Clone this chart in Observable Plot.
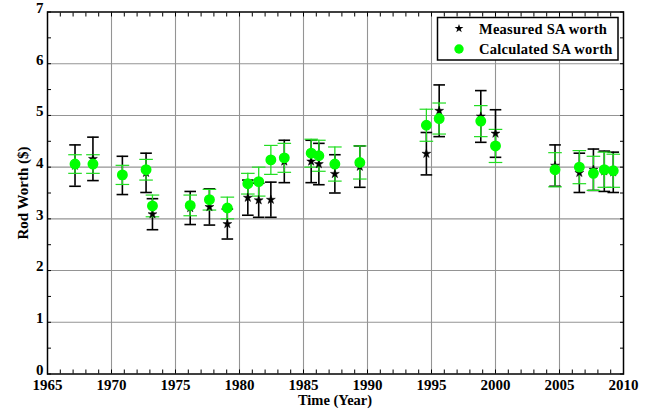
<!DOCTYPE html>
<html><head><meta charset="utf-8">
<script src="https://cdn.jsdelivr.net/npm/d3@7"></script>
<script src="https://cdn.jsdelivr.net/npm/@observablehq/plot@0.6"></script>
<style>body{margin:0;background:#fff}</style>
</head><body><div id="chart"></div>
<script>
// ---- data ----
const years         = [1967.15, 1968.55, 1970.85, 1972.7, 1973.2, 1976.15, 1977.65, 1979.05, 1980.65, 1981.5, 1982.45, 1983.5, 1985.6, 1986.2, 1987.45, 1989.4, 1994.6, 1995.6, 1998.85, 2000.0, 2004.65, 2006.55, 2007.65, 2008.5, 2009.2];
const measured      = [4.03, 4.16, 3.84, 3.89, 3.09, 3.21, 3.23, 2.90, 3.41, 3.36, 3.37, 4.11, 4.11, 4.06, 3.87, 4.01, 4.26, 5.09, 4.98, 4.65, 4.03, 3.89, 3.95, 3.92, 3.90];
const measuredErr   = [0.40, 0.42, 0.37, 0.38, 0.30, 0.32, 0.35, 0.29, 0.34, 0.33, 0.34, 0.41, 0.41, 0.40, 0.37, 0.40, 0.41, 0.50, 0.50, 0.46, 0.40, 0.38, 0.40, 0.39, 0.39];
const calculated    = [4.06, 4.06, 3.85, 3.95, 3.25, 3.26, 3.37, 3.21, 3.68, 3.72, 4.14, 4.18, 4.27, 4.22, 4.06, 4.09, 4.81, 4.94, 4.89, 4.41, 3.95, 4.00, 3.88, 3.95, 3.93];
const calculatedErr = [0.18, 0.18, 0.185, 0.20, 0.21, 0.20, 0.20, 0.21, 0.20, 0.28, 0.28, 0.28, 0.27, 0.30, 0.33, 0.32, 0.31, 0.30, 0.30, 0.32, 0.33, 0.32, 0.33, 0.34, 0.32];
const xTicks = [1965, 1970, 1975, 1980, 1985, 1990, 1995, 2000, 2005, 2010];
const yTicks = [0, 1, 2, 3, 4, 5, 6, 7];
const seriesNames = ["Measured SA worth", "Calculated SA worth"];
const xLabel = "Time (Year)";
const yLabel = "Rod Worth ($)";

// ---- build ----
const rows = years.map((x, i) => ({x, m: measured[i], me: measuredErr[i], c: calculated[i], ce: calculatedErr[i]}));
const hcap = {draw(ctx, size) { const w = Math.sqrt(size / Math.PI); ctx.moveTo(-w, 0); ctx.lineTo(w, 0); }};
const W = 646, H = 409, mL = 47, mR = 23, mT = 11.5, mB = 35.5;
const font = "'Liberation Serif','Times New Roman',serif";
const GREEN = "#00ff00", GREEN_BAR = "#22dd22";
const minorX = d3.range(1965, 2011, 1);
const minorY = d3.range(0, 7.01, 0.5);
const noText = () => "";
const tf = {fontFamily: font, fontWeight: "bold", fontSize: 15};

const plot = Plot.plot({
  width: W, height: H,
  marginLeft: mL, marginRight: mR, marginTop: mT, marginBottom: mB,
  style: {background: "white", color: "black", overflow: "visible"},
  x: {domain: [1965, 2010]},
  y: {domain: [0, 7]},
  marks: [
    Plot.gridX(xTicks.slice(1, -1), {stroke: "#949494", strokeOpacity: 1, strokeWidth: 1.1}),
    Plot.gridY(yTicks.slice(1, -1), {stroke: "#949494", strokeOpacity: 1, strokeWidth: 1.1}),
    Plot.axisX(minorX, {anchor: "bottom", tickSize: -4, tickFormat: noText, label: null}),
    Plot.axisX(minorX, {anchor: "top", tickSize: -4, tickFormat: noText, label: null}),
    Plot.axisY(minorY, {anchor: "left", tickSize: -4, tickFormat: noText, label: null}),
    Plot.axisY(minorY, {anchor: "right", tickSize: -4, tickFormat: noText, label: null}),
    Plot.axisX(xTicks, {anchor: "bottom", tickSize: 0, tickPadding: 5, tickFormat: d => String(d), label: null, ...tf}),
    Plot.axisY(yTicks, {anchor: "left", tickSize: 0, tickPadding: 4, dy: -4, tickFormat: d => String(d), label: null, ...tf}),
    // measured error bars
    Plot.ruleX(rows, {x: "x", y1: d => d.m - d.me, y2: d => d.m + d.me, stroke: "black", strokeWidth: 1.6}),
    Plot.dot(rows, {x: "x", y: d => d.m + d.me, symbol: hcap, r: 5.8, fill: "none", stroke: "black", strokeWidth: 1.6}),
    Plot.dot(rows, {x: "x", y: d => d.m - d.me, symbol: hcap, r: 5.8, fill: "none", stroke: "black", strokeWidth: 1.6}),
    // calculated error bars
    Plot.ruleX(rows, {x: "x", y1: d => d.c - d.ce, y2: d => d.c + d.ce, stroke: GREEN_BAR, strokeWidth: 1.3}),
    Plot.dot(rows, {x: "x", y: d => d.c + d.ce, symbol: hcap, r: 6.8, fill: "none", stroke: GREEN_BAR, strokeWidth: 1.2}),
    Plot.dot(rows, {x: "x", y: d => d.c - d.ce, symbol: hcap, r: 6.8, fill: "none", stroke: GREEN_BAR, strokeWidth: 1.2}),
    // markers
    Plot.dot(rows, {x: "x", y: "m", symbol: "star", r: 2.8, fill: "black", stroke: "black", strokeWidth: 0.5}),
    Plot.dot(rows, {x: "x", y: "c", r: 4.7, fill: GREEN, stroke: GREEN}),
    Plot.frame({stroke: "black", strokeWidth: 1.5})
  ]
});
document.getElementById("chart").appendChild(plot);

const svg = d3.select(plot);
svg.selectAll("text")
  .style("font-family", font, "important").style("font-weight", "bold")
  .style("font-size", "15px").style("font-variant", "normal");

// axis titles
svg.append("text").attr("x", 335).attr("y", 405).attr("text-anchor", "middle")
  .style("font-family", font).style("font-weight", "bold").style("font-size", "14.5px").text(xLabel);
svg.append("text").attr("transform", "translate(28,193) rotate(-90)").attr("text-anchor", "middle")
  .style("font-family", font).style("font-weight", "bold").style("font-size", "15px").text(yLabel);

// legend
const lg = svg.append("g");
lg.append("rect").attr("x", 437.5).attr("y", 17.5).attr("width", 180.5).attr("height", 42.5)
  .attr("fill", "white").attr("stroke", "black").attr("stroke-width", 1.5);
lg.append("path").attr("d", d3.symbol(d3.symbolStar, 24)()).attr("transform", "translate(459,28.5)").attr("fill", "black");
lg.append("circle").attr("cx", 459).attr("cy", 49).attr("r", 4.7).attr("fill", GREEN);
[[seriesNames[0], 33.8], [seriesNames[1], 54.3]].forEach(([t, y]) => {
  lg.append("text").attr("x", 479).attr("y", y).attr("text-anchor", "start")
    .style("font-family", font).style("font-weight", "bold").style("font-size", "14.5px").style("letter-spacing", "0.25px").text(t);
});
</script>
</body></html>
